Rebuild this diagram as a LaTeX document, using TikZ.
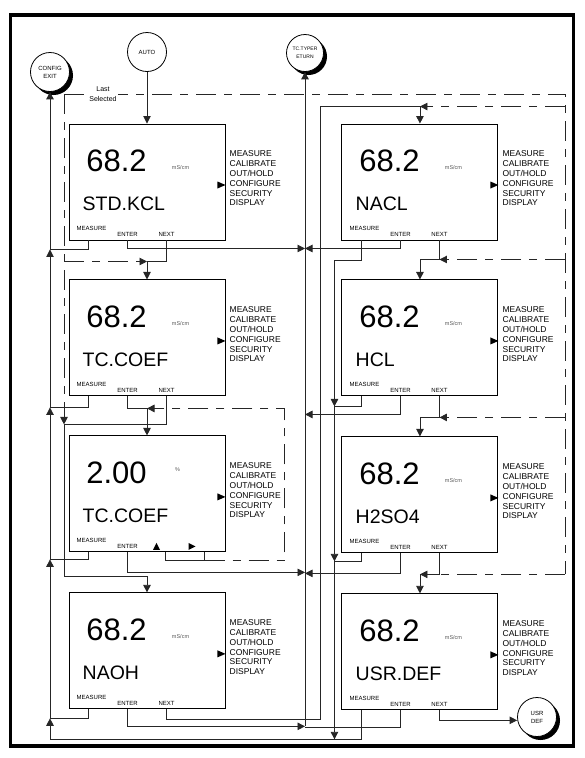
\documentclass[tikz,border=0pt]{standalone}
\usepackage{fontspec}
\setmainfont{Liberation Sans}
\usetikzlibrary{arrows.meta, positioning, shadows}

\begin{document}
\begin{tikzpicture}[
    x=1pt, y=-1pt,
    >={Triangle[length=7.5pt, width=7.5pt]},
    % --- display styles ---
    lcd/.style={
      draw, rectangle, line width=0.95pt,
      minimum width=156pt, minimum height=116pt, inner sep=0pt},
    bigval/.style={font=\fontsize{31}{31}\selectfont, inner sep=0pt},
    tag/.style={font=\fontsize{19.5}{20}\selectfont, inner sep=0pt, anchor=west},
    unit/.style={font=\fontsize{5.5}{6}\selectfont, text=black!65, inner sep=0pt},
    key/.style={font=\fontsize{6}{7}\selectfont, inner sep=0pt},
    menu/.style={
      font=\fontsize{8.5}{9.8}\selectfont,
      align=left, anchor=west, inner sep=0pt},
    term/.style={
      draw, circle, fill=white, line width=0.8pt,
      minimum size=39pt, inner sep=0pt,
      align=center, font=\fontsize{6}{8}\selectfont},
    shade/.style={drop shadow={shadow xshift=3.5pt, shadow yshift=-3.5pt,
      opacity=1, fill=black}},
    wire/.style={line width=0.85pt, draw=black!85},
    arr/.style={wire, ->},
    lastsel/.style={wire, dash pattern=on 20pt off 8pt on 8pt off 8pt},
  ]

  \useasboundingbox (0,0) rectangle (584,758);
  \draw[line width=3.5pt] (10.5,15) rectangle (573.5,746);

  % ── Displays, left column ──
  \node[lcd] (kcl) at (147,182) {};
  \node[lcd, below=39pt of kcl]    (tccoef) {};
  \node[lcd, below=39pt of tccoef] (tcval)  {};
  \node[lcd, below=40pt of tcval]  (naoh)   {};

  % ── Displays, right column ──
  \node[lcd, right=116pt of kcl]   (nacl)   {};
  \node[lcd, below=39pt of nacl]   (hcl)    {};
  \node[lcd, below=40pt of hcl]    (h2so4)  {};
  \node[lcd, below=40pt of h2so4]  (usrdef) {};

  % ── Display contents ──
  \foreach \b/\val/\name in {kcl/68.2/STD.KCL, tccoef/68.2/TC.COEF,
      tcval/2.00/TC.COEF, naoh/68.2/NAOH, nacl/68.2/NACL, hcl/68.2/HCL,
      h2so4/68.2/H2SO4, usrdef/68.2/USR.DEF}{
    \node[bigval] (\b-val) at ([shift={(48,37)}]\b.north west) {\val};
    \node[tag] (\b-tag) at ([shift={(14,80)}]\b.north west) {\name};
    \node[key] (\b-kmeas) at ([shift={(23,105)}]\b.north west) {MEASURE};
    \node[key] (\b-kenter) at ([shift={(59,111)}]\b.north west) {ENTER};
    \node[menu] (\b-menu) at ([shift={(4,-3.5)}]\b.east)
      {MEASURE\\CALIBRATE\\OUT/HOLD\\CONFIGURE\\SECURITY\\DISPLAY};
    \fill ([yshift=-3pt]\b.east) -- ++(-8,-3.5) -- ++(0,7) -- cycle;
    \coordinate (\b-m) at ([xshift=20pt]\b.south west);
    \coordinate (\b-e) at ([xshift=59pt]\b.south west);
    \coordinate (\b-n) at ([xshift=98pt]\b.south west);
  }
  \foreach \b in {kcl, tccoef, naoh, nacl, hcl, h2so4, usrdef}{
    \node[unit] (\b-unit) at ([shift={(112,44)}]\b.north west) {mS/cm};
    \node[key] (\b-knext) at ([shift={(98,111)}]\b.north west) {NEXT};
  }
  \node[unit] (tcval-unit) at ([shift={(109,34)}]tcval.north west) {\%};
  % up / right keys
  \fill ([shift={(88,107.5)}]tcval.north west) -- ++(3.5,7) -- ++(-7,0) -- cycle;
  \fill ([shift={(120,107.5)}]tcval.north west) -- ++(7,3.5) -- ++(-7,3.5) -- cycle;

  % ── Terminals ──
  \node[term] (auto) at (147,52) {AUTO};
  \node[term, shade] (exit) at (50,72) {CONFIG\\EXIT};
  \node[term, shade, minimum size=37pt, font=\fontsize{5}{8}\selectfont]
    (ret) at (305,53) {TC.TYPER\\ETURN};
  \node[term, shade] (usr) at (537,717) {USR\\DEF};

  \draw[arr] (auto) -- (kcl.north);

  % ── MEASURE -> CONFIG EXIT ──
  \draw[wire] (kcl-m) -- ++(0,9) coordinate (jm1) -- (jm1 -| exit.south);
  \draw[wire] (tccoef-m) -- ++(0,11) coordinate (jm2) -- (jm2 -| exit.south);
  \draw[wire] (tcval-m) -- ++(0,7) coordinate (jm3) -- (jm3 -| exit.south);
  \draw[wire] (naoh-m) -- ++(0,9) coordinate (jm4) -- (jm4 -| exit.south);
  \draw[wire] (usrdef-m) -- ++(0,29) coordinate (jm5) -- (jm5 -| exit.south);
  \foreach \a/\c in {jm5/jm4, jm4/jm3, jm3/jm2, jm2/jm1}
    \draw[arr] (\a -| exit.south) -- (\c -| exit.south);
  \draw[arr] (jm1 -| exit.south) -- (exit.south);

  \draw[wire] (nacl-m) -- ++(0,20) coordinate (rm1) -- ++(-27,0) coordinate (rc1);
  \draw[wire] (hcl-m) -- ++(0,10) coordinate (rm2) -- (rm2 -| rc1);
  \draw[wire] (h2so4-m) -- ++(0,8) coordinate (rm3) -- (rm3 -| rc1);
  \draw[arr] (rc1) -- (rm2 -| rc1);
  \draw[arr] (rm2 -| rc1) -- (rm3 -| rc1);
  \draw[arr] (rm3 -| rc1) -- (jm5 -| rc1);

  % ── ENTER -> TC.TYPE RETURN ──
  \draw[arr] (kcl-e) -- ++(0,8) coordinate (je1) -- (je1 -| ret.south);
  \draw[arr] (nacl-e) -- ++(0,8) coordinate (je2) -- (je2 -| ret.south);
  \draw[arr] (hcl-e) -- ++(0,18) coordinate (je3) -- (je3 -| ret.south);
  \draw[arr] (tcval-e) -- ++(0,20) coordinate (je4) -- (je4 -| ret.south);
  \draw[arr] (h2so4-e) -- ++(0,20) coordinate (je5) -- (je5 -| ret.south);
  \draw[arr] (naoh-e) -- ++(0,17) coordinate (je6) -- (je6 -| ret.south);
  \draw[wire] (usrdef-e) -- ++(0,17) coordinate (je7) -- (je7 -| ret.south);
  \draw[arr] (je6 -| ret.south) -- (ret.south);

  % ── NEXT / ENTER chains ──
  \coordinate (ls) at (64,94);
  \coordinate (rs) at (565,94);
  \draw[arr] (kcl-n) -- ++(0,21) coordinate (jn1) -| (tccoef.north);
  \draw[arr] (tccoef-e) -- ++(0,12) coordinate (jn2) -| (tcval.north);
  \draw[arr] (tccoef-n) -- ++(0,28) coordinate (jn3) -- (jn3 -| ls)
    -- ++(0,152) -| (naoh.north);
  \draw[arr] (naoh-n) -- ++(0,10) coordinate (jn4) -- ++(154,0)
    |- ([yshift=17pt]nacl.north) coordinate (jn5) -- (nacl.north);
  \draw[arr] (nacl-n) -- ++(0,19) coordinate (jn6) -| (hcl.north);
  \draw[arr] (hcl-n) -- ++(0,21) coordinate (jn7) -| (h2so4.north);
  \draw[arr] (h2so4-n) -- ++(0,21) coordinate (jn8) -- (jn8 -| usrdef.north);
  \draw[arr] (jn8 -| usrdef.north) -- (usrdef.north);
  \draw[arr] (usrdef-n) -- ++(0,10) coordinate (jn9) -- (jn9 -| usr.west);

  % value edit loop
  \draw[wire] ([xshift=97pt]tcval.south west) -- ++(0,8) coordinate (lp1)
    -- ++(39,0) coordinate (lp2) -- ++(0,-8);
  \draw[lastsel, ->] (lp2) -- ++(80,0) |- (jn2 -| tcval.north);

  % ── Last selected ──
  \draw[lastsel] (ls) -- (rs) -- (rs |- jn8);
  \draw[lastsel, ->] (ls) -- (jn3 -| ls);
  \draw[lastsel, ->] (jn1 -| ls) -- (jn1 -| tccoef.north);
  \draw[lastsel, ->] (rs |- jn5) -- (jn5);
  \draw[lastsel, ->] (rs |- jn6) -- (jn6);
  \draw[lastsel, ->] (rs |- jn7) -- (jn7);
  \draw[lastsel] (rs |- jn8) -- (jn8);
  \node[fill=white, align=center, inner sep=1pt,
        font=\fontsize{7}{10}\selectfont] (lastlbl) at (103,94) {Last\\Selected};

\end{tikzpicture}
\end{document}
